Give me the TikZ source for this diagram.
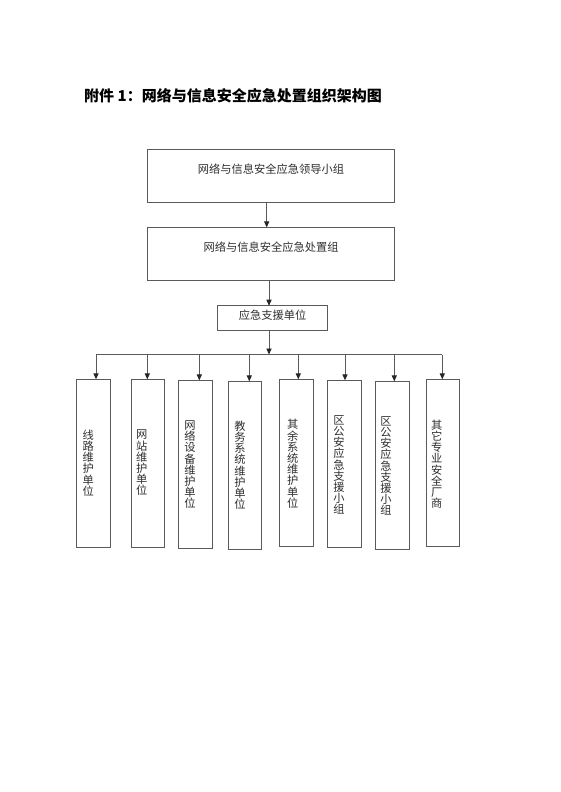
\documentclass[tikz,border=0pt]{standalone}
\usepackage{fontspec}
\setmainfont{Noto Sans CJK SC}
\usetikzlibrary{arrows.meta,calc}
\definecolor{linegray}{HTML}{5A5A5A}
\definecolor{txtgray}{HTML}{2E2E2E}
\tikzset{
  box/.style={draw=linegray,line width=0.9pt,rectangle,inner sep=0pt,outer sep=0pt},
  txt/.style={text=txtgray,inner sep=0pt,font=\fontsize{11.25pt}{11.2pt}\selectfont},
  vtxt/.style={txt,align=center},
  arr/.style={draw=linegray,line width=0.9pt,-{Triangle[length=6pt,width=5.2pt,color=black!85]}},
  ln/.style={draw=linegray,line width=0.9pt},
  ttl/.style={anchor=west,inner sep=0pt,text=black,font=\bfseries\fontsize{15pt}{18pt}\selectfont}
}
\begin{document}
\begin{tikzpicture}[x=1pt,y=-1pt]
\useasboundingbox (0,0) rectangle (560,792);
\node[ttl] (title) at (84,96) {附件 1：网络与信息安全应急处置组织架构图};
% top boxes
\node[box,minimum width=247.4pt,minimum height=53pt] (b1) at (271,175.8) {};
\node[txt] (b1t) at ($(b1.north)+(0,20)$) {网络与信息安全应急领导小组};
\node[box,minimum width=247.4pt,minimum height=52.7pt] (b2) at (271,253.7) {};
\node[txt] (b2t) at ($(b2.north)+(0,19.4)$) {网络与信息安全应急处置组};
\node[box,minimum width=109.6pt,minimum height=25pt] (b3) at (272.5,318.2) {};
\node[txt] (b3t) at ($(b3.center)+(0,-2.8)$) {应急支援单位};
% arrow columns
\coordinate (a1) at (266.7,0);
\coordinate (a2) at (269,0);
\draw[arr] (b1.south -| a1) -- (b2.north -| a1);
\draw[arr] (b2.south -| a2) -- (b3.north -| a2);
% bus
\coordinate (busL) at (96,354.5);
\coordinate (busR) at (442.3,354.5);
\draw[arr] (b3.south -| a2) -- (busL -| a2);
\draw[ln] (busL) -- (busR);
% bottom boxes
\node[box,minimum width=34.3pt,minimum height=168pt] (c1) at (93.2,463.3) {};
\node[box,minimum width=33.3pt,minimum height=168pt] (c2) at (147.7,463.3) {};
\node[box,minimum width=34pt,minimum height=167.7pt] (c3) at (195.3,464.2) {};
\node[box,minimum width=33.4pt,minimum height=168pt] (c4) at (245,465.3) {};
\node[box,minimum width=33.6pt,minimum height=167.4pt] (c5) at (296.5,463) {};
\node[box,minimum width=33.3pt,minimum height=167pt] (c6) at (344.3,463.8) {};
\node[box,minimum width=34pt,minimum height=168pt] (c7) at (392,465.3) {};
\node[box,minimum width=33.7pt,minimum height=167.4pt] (c8) at (442.8,463) {};
% vertical texts
\node[vtxt] (t1) at (88.3,463) {线\\路\\维\\护\\单\\位};
\node[vtxt] (t2) at (141.7,463) {网\\站\\维\\护\\单\\位};
\node[vtxt] (t3) at (190,464.7) {网\\络\\设\\备\\维\\护\\单\\位};
\node[vtxt] (t4) at (240,465.3) {教\\务\\系\\统\\维\\护\\单\\位};
\node[vtxt] (t5) at (292.7,463.8) {其\\余\\系\\统\\维\\护\\单\\位};
\node[vtxt] (t6) at (339,465) {区\\公\\安\\应\\急\\支\\援\\小\\组};
\node[vtxt] (t7) at (386,466) {区\\公\\安\\应\\急\\支\\援\\小\\组};
\node[vtxt] (t8) at (436.7,464.3) {其\\它\\专\\业\\安\\全\\厂\\商};
% drops
\coordinate (d1) at (96,354.5);
\coordinate (d2) at (147.3,354.5);
\coordinate (d3) at (199.3,354.5);
\coordinate (d4) at (249.3,354.5);
\coordinate (d5) at (298.3,354.5);
\coordinate (d6) at (345,354.5);
\coordinate (d7) at (394.3,354.5);
\coordinate (d8) at (442.3,354.5);
\foreach \i in {1,...,8}{
  \draw[arr] (d\i) -- (d\i |- c\i.north);
}
\end{tikzpicture}
\end{document}
